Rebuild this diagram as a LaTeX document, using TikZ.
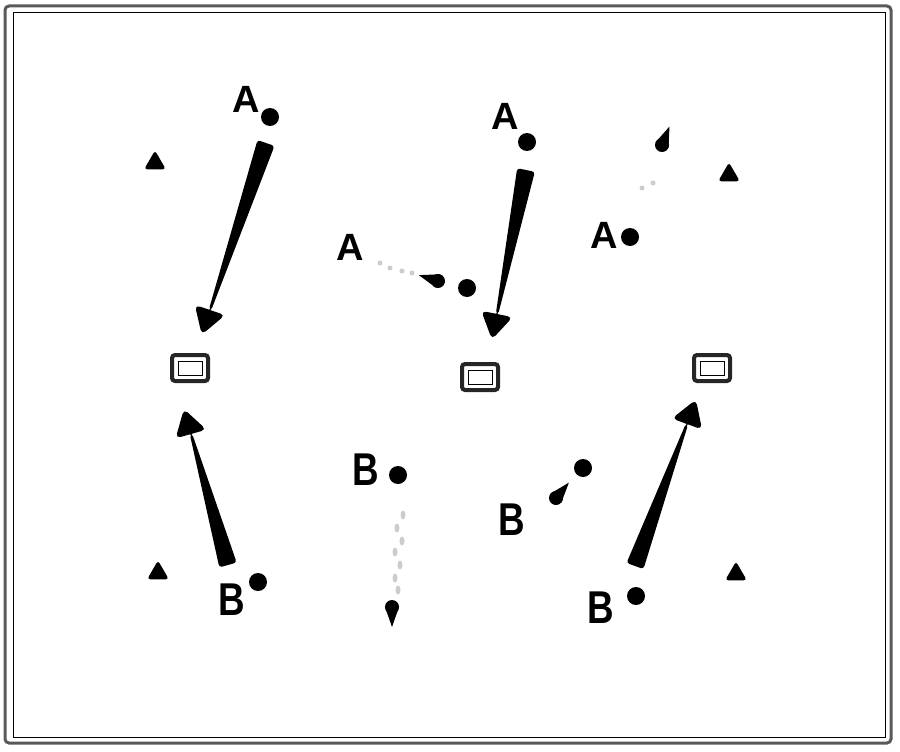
\documentclass[tikz,border=0pt]{standalone}
\usepackage{fontspec}
\setsansfont{Liberation Sans}
\usetikzlibrary{calc,shapes.geometric}
\tikzset{
 lbl/.style={font=\sffamily\bfseries\fontsize{38}{38}\selectfont, inner sep=0pt},
 lblb/.style={font=\sffamily\bfseries\fontsize{46}{46}\selectfont, inner sep=0pt, xscale=0.8},
 dotn/.style={circle, fill=black, minimum size=18pt, inner sep=0pt},
 tri/.style={regular polygon, regular polygon sides=3, fill=black, minimum size=25pt, inner sep=0pt, rounded corners=3pt},
 boxo/.style={draw=black!85, line width=4pt, rounded corners=3pt, minimum width=36pt, minimum height=26pt, inner sep=0pt},
 boxi/.style={draw=black, line width=0.9pt, minimum width=24pt, minimum height=14pt, inner sep=0pt},
 fade/.style={fill=gray!40},
 tear/.pic={\fill (0,0) circle[radius=7]; \fill (0,7) -- (20,0) -- (0,-7) -- cycle;},
}
\newcommand\wedgearr[2]{%
 \fill[rounded corners=3pt] ($(#1)!9pt!90:(#2)$) -- ($(#2)!1.2pt!-90:(#1)$) -- ($(#2)!1.2pt!90:(#1)$) -- ($(#1)!9pt!-90:(#2)$) -- cycle;
 \fill[rounded corners=5pt] ($(#2)!-26pt!(#1)$) -- ($(#2)!16pt!90:(#1)$) -- ($(#2)!16pt!-90:(#1)$) -- cycle;
}
\begin{document}
\begin{tikzpicture}[x=1pt,y=-1pt]
\useasboundingbox (0,0) rectangle (900,752);
% frame
\draw[gray!70!black, line width=3pt, rounded corners=4pt] (5,6) rectangle (891,743);
\draw[black, line width=1pt] (13,13) rectangle (885,737);

% ---------- panel 1 ----------
\node[lbl] (A1) at (246,99) {A};
\node[dotn] (a1) at (270,117) {};
\node[tri] (t1) at (155,163) {};
\node[boxo] (box1) at (190,368) {};
\node[boxi] (box1i) at (190,368) {};
\node[tri] (t2) at (158,573) {};
\node[lblb] (B1) at (232,600) {B};
\node[dotn] (b1) at (258,582) {};
\coordinate (w1t) at (266,143);
\coordinate (w1h) at (210,310);
\wedgearr{w1t}{w1h}
\coordinate (w2t) at (228,565);
\coordinate (w2h) at (191,434);
\wedgearr{w2t}{w2h}

% ---------- panel 2 ----------
\node[lbl] (A2) at (350,247) {A};
\node[dotn] (a2) at (467,288) {};
\foreach \p in {(380,263),(390,268),(402,271),(412,273)} \fill[fade] \p circle[radius=2.5];
\pic[rotate=163] at (438,281) {tear};
\node[lbl] (A3) at (505,116) {A};
\node[dotn] (a3) at (527,142) {};
\coordinate (w3t) at (526,170);
\coordinate (w3h) at (497,314);
\wedgearr{w3t}{w3h}
\node[boxo] (box2) at (480,377) {};
\node[boxi] (box2i) at (480,377) {};
\node[lblb] (B2) at (366,470) {B};
\node[dotn] (b2) at (398,475) {};
\foreach \p in {(403,515),(397,528),(402,541),(395,552),(400,565),(395,578),(398,590)} \fill[fade] \p ellipse[x radius=2.5, y radius=4.5];
\pic[rotate=-90] at (392,607) {tear};
\node[lblb] (B3) at (512,520) {B};
\node[dotn] (b3) at (583,468) {};
\pic[rotate=50] at (556,498) {tear};

% ---------- panel 3 ----------
\pic[rotate=68] at (662,145) {tear};
\foreach \p in {(642,188),(653,183)} \fill[fade] \p circle[radius=2.5];
\node[tri] (t3) at (729,175) {};
\node[lbl] (A4) at (604,235) {A};
\node[dotn] (a4) at (630,237) {};
\node[boxo] (box3) at (712,368) {};
\node[boxi] (box3i) at (712,368) {};
\coordinate (w4t) at (635,566);
\coordinate (w4h) at (687,424);
\wedgearr{w4t}{w4h}
\node[tri] (t4) at (736,574) {};
\node[lblb] (B4) at (601,608) {B};
\node[dotn] (b4) at (636,596) {};
\end{tikzpicture}
\end{document}
